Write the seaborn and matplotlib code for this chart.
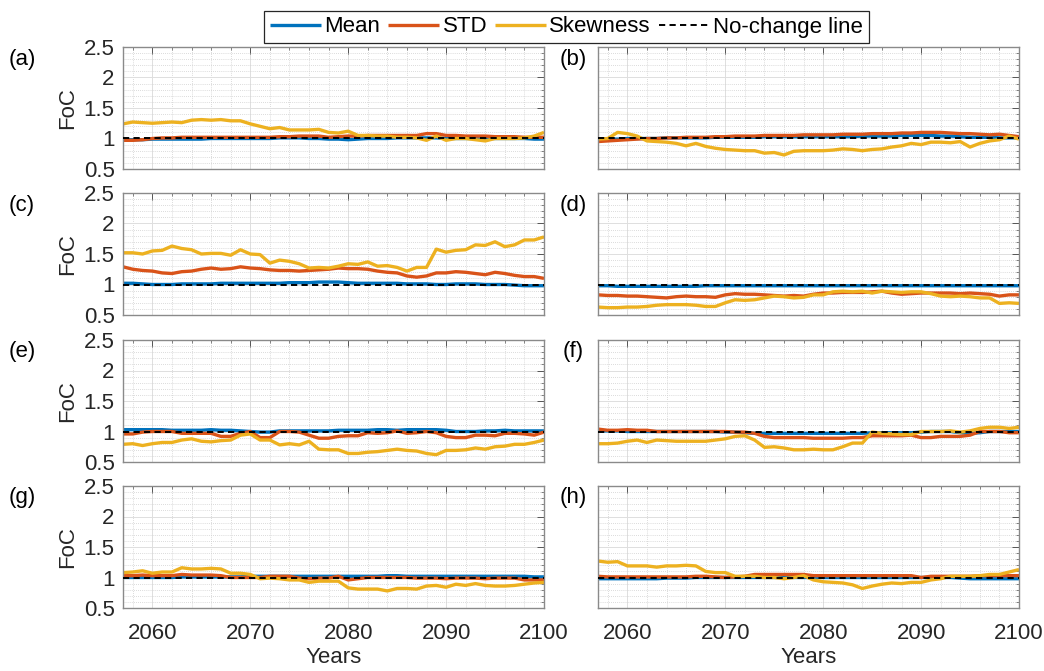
import numpy as np
import pandas as pd
import matplotlib
matplotlib.use("Agg")
import matplotlib.pyplot as plt
from matplotlib.ticker import MultipleLocator, FixedLocator
import seaborn as sns

# ---------------------------------------------------------------------------
# Data: factor of change (FoC) of mean, standard deviation and skewness
# ---------------------------------------------------------------------------
years = list(range(2057, 2101))
stats = ["Mean", "STD", "Skewness"]
panel_tags = ["(a)", "(b)", "(c)", "(d)", "(e)", "(f)", "(g)", "(h)"]
yticks = [0.5, 1, 1.5, 2, 2.5]
ytick_labels = ["0.5", "1", "1.5", "2", "2.5"]
xticks = [2060, 2070, 2080, 2090, 2100]
no_change = 1.0

mean_a = [0.98, 0.98, 0.98, 0.99, 0.99, 0.99, 0.99, 0.99, 0.99, 1.00,
          1.00, 1.00, 1.00, 1.00, 1.00, 1.00, 1.01, 1.01, 1.01, 1.00,
          1.00, 0.99, 0.99, 0.98, 0.99, 1.00, 1.00, 1.00, 1.01, 1.01,
          1.01, 1.01, 1.01, 1.00, 1.00, 1.00, 1.00, 1.00, 1.00, 1.00,
          1.00, 1.00, 0.99, 0.99]
std_a = [0.97, 0.97, 0.98, 1.00, 1.01, 1.01, 1.02, 1.02, 1.02, 1.02,
         1.02, 1.02, 1.02, 1.02, 1.02, 1.02, 1.03, 1.03, 1.04, 1.04,
         1.04, 1.02, 1.03, 1.04, 1.04, 1.05, 1.05, 1.05, 1.05, 1.05,
         1.05, 1.08, 1.08, 1.05, 1.05, 1.04, 1.04, 1.04, 1.03, 1.03,
         1.03, 1.02, 1.02, 1.02]
skew_a = [1.24, 1.27, 1.26, 1.25, 1.26, 1.27, 1.26, 1.30, 1.31, 1.30,
          1.31, 1.29, 1.29, 1.24, 1.20, 1.16, 1.18, 1.14, 1.14, 1.14,
          1.15, 1.10, 1.09, 1.12, 1.05, 1.05, 1.04, 1.04, 1.02, 1.02,
          1.01, 0.97, 1.04, 0.97, 1.00, 1.00, 0.98, 0.96, 1.00, 1.00,
          1.00, 1.01, 1.04, 1.10]

mean_b = [0.98, 0.99, 0.99, 1.00, 1.00, 1.00, 1.00, 1.01, 1.01, 1.01,
          1.01, 1.01, 1.02, 1.02, 1.02, 1.02, 1.02, 1.03, 1.03, 1.03,
          1.03, 1.03, 1.03, 1.03, 1.03, 1.03, 1.03, 1.04, 1.04, 1.04,
          1.04, 1.05, 1.05, 1.05, 1.05, 1.04, 1.04, 1.03, 1.02, 1.02,
          1.02, 1.01, 1.01, 1.01]
std_b = [0.95, 0.96, 0.97, 0.98, 0.99, 1.00, 1.00, 1.01, 1.01, 1.02,
         1.02, 1.02, 1.03, 1.03, 1.04, 1.04, 1.04, 1.05, 1.05, 1.05,
         1.05, 1.06, 1.06, 1.06, 1.06, 1.07, 1.07, 1.07, 1.08, 1.08,
         1.08, 1.09, 1.09, 1.10, 1.10, 1.10, 1.09, 1.08, 1.08, 1.07,
         1.06, 1.07, 1.05, 1.03]
skew_b = [0.99, 1.00, 1.10, 1.08, 1.04, 0.96, 0.95, 0.94, 0.92, 0.88,
          0.92, 0.87, 0.84, 0.82, 0.81, 0.80, 0.80, 0.76, 0.77, 0.73,
          0.79, 0.80, 0.80, 0.80, 0.81, 0.83, 0.82, 0.80, 0.82, 0.83,
          0.86, 0.88, 0.92, 0.90, 0.94, 0.94, 0.93, 0.95, 0.86, 0.92,
          0.96, 0.98, 1.04, 0.99]

mean_c = [1.02, 1.02, 1.01, 1.00, 1.00, 1.00, 1.01, 1.01, 1.01, 1.01,
          1.02, 1.02, 1.02, 1.02, 1.02, 1.02, 1.02, 1.03, 1.03, 1.03,
          1.04, 1.04, 1.04, 1.03, 1.02, 1.02, 1.02, 1.02, 1.02, 1.01,
          1.01, 1.01, 1.00, 1.00, 1.01, 1.01, 1.01, 1.00, 1.00, 1.00,
          0.99, 0.98, 0.98, 0.98]
std_c = [1.29, 1.25, 1.23, 1.22, 1.19, 1.18, 1.21, 1.22, 1.25, 1.27,
         1.25, 1.26, 1.29, 1.27, 1.26, 1.24, 1.23, 1.23, 1.22, 1.23,
         1.24, 1.25, 1.27, 1.26, 1.26, 1.25, 1.22, 1.20, 1.19, 1.14,
         1.12, 1.14, 1.19, 1.19, 1.21, 1.20, 1.18, 1.16, 1.20, 1.18,
         1.15, 1.13, 1.13, 1.10]
skew_c = [1.52, 1.52, 1.50, 1.55, 1.56, 1.63, 1.59, 1.57, 1.50, 1.51,
          1.51, 1.48, 1.57, 1.50, 1.49, 1.35, 1.40, 1.38, 1.34, 1.27,
          1.28, 1.27, 1.30, 1.34, 1.33, 1.37, 1.30, 1.31, 1.28, 1.22,
          1.28, 1.28, 1.58, 1.53, 1.56, 1.57, 1.65, 1.64, 1.70, 1.62,
          1.65, 1.73, 1.73, 1.78]

mean_d = [0.98, 0.98, 0.97, 0.97, 0.97, 0.97, 0.97, 0.97, 0.97, 0.97,
          0.97, 0.98, 0.98, 0.98, 0.98, 0.98, 0.98, 0.98, 0.98, 0.98,
          0.98, 0.98, 0.98, 0.98, 0.98, 0.98, 0.98, 0.98, 0.98, 0.98,
          0.98, 0.98, 0.98, 0.98, 0.98, 0.98, 0.98, 0.98, 0.98, 0.98,
          0.98, 0.98, 0.98, 0.98]
std_d = [0.83, 0.82, 0.82, 0.81, 0.81, 0.80, 0.79, 0.78, 0.80, 0.81,
         0.80, 0.80, 0.79, 0.83, 0.85, 0.84, 0.84, 0.83, 0.82, 0.81,
         0.82, 0.81, 0.84, 0.86, 0.86, 0.87, 0.87, 0.87, 0.88, 0.89,
         0.86, 0.84, 0.85, 0.86, 0.86, 0.86, 0.86, 0.85, 0.86, 0.85,
         0.84, 0.81, 0.83, 0.83]
skew_d = [0.63, 0.62, 0.62, 0.63, 0.63, 0.64, 0.66, 0.67, 0.67, 0.67,
          0.66, 0.64, 0.64, 0.70, 0.75, 0.74, 0.75, 0.78, 0.81, 0.80,
          0.78, 0.79, 0.83, 0.83, 0.88, 0.89, 0.88, 0.89, 0.86, 0.89,
          0.88, 0.87, 0.88, 0.88, 0.85, 0.81, 0.80, 0.81, 0.80, 0.78,
          0.78, 0.69, 0.70, 0.69]

mean_e = [1.03, 1.03, 1.03, 1.03, 1.03, 1.02, 1.02, 1.02, 1.02, 1.03,
          1.02, 1.02, 1.01, 1.00, 0.99, 0.99, 1.01, 1.01, 1.01, 1.01,
          1.01, 1.01, 1.02, 1.02, 1.02, 1.02, 1.03, 1.03, 1.02, 1.03,
          1.03, 1.03, 1.03, 1.02, 1.00, 1.00, 1.00, 1.01, 1.01, 1.02,
          1.01, 1.01, 1.01, 1.01]
std_e = [0.96, 0.96, 0.99, 1.00, 1.00, 1.00, 0.97, 0.97, 0.97, 0.97,
         0.92, 0.92, 0.97, 1.00, 0.90, 0.90, 1.00, 1.00, 0.99, 0.94,
         0.89, 0.89, 0.92, 0.93, 0.93, 0.98, 0.97, 0.98, 1.01, 0.97,
         0.98, 1.00, 0.98, 0.92, 0.90, 0.90, 0.94, 0.94, 0.93, 0.97,
         0.97, 0.96, 0.94, 0.99]
skew_e = [0.79, 0.80, 0.77, 0.80, 0.82, 0.82, 0.86, 0.88, 0.84, 0.83,
          0.85, 0.86, 0.94, 0.96, 0.86, 0.86, 0.78, 0.80, 0.78, 0.84,
          0.71, 0.70, 0.70, 0.64, 0.64, 0.66, 0.67, 0.69, 0.71, 0.69,
          0.68, 0.64, 0.62, 0.69, 0.69, 0.70, 0.73, 0.71, 0.75, 0.76,
          0.79, 0.79, 0.82, 0.86]

mean_f = [1.01, 1.01, 1.01, 1.00, 1.00, 1.00, 1.00, 1.00, 1.00, 1.00,
          1.00, 1.00, 1.00, 0.99, 0.99, 0.98, 0.97, 0.97, 0.97, 0.97,
          0.97, 0.97, 0.97, 0.97, 0.97, 0.97, 0.97, 0.97, 0.98, 0.98,
          0.98, 0.98, 0.98, 0.99, 1.00, 1.00, 1.00, 0.98, 0.97, 0.98,
          1.00, 1.00, 1.00, 1.00]
std_f = [1.04, 1.02, 1.02, 1.03, 1.02, 1.02, 1.00, 1.00, 1.00, 1.00,
         1.00, 1.00, 1.00, 1.00, 0.99, 0.99, 0.97, 0.92, 0.90, 0.90,
         0.90, 0.90, 0.89, 0.89, 0.89, 0.89, 0.90, 0.90, 0.93, 0.93,
         0.93, 0.93, 0.94, 0.90, 0.90, 0.92, 0.92, 0.92, 0.94, 1.00,
         1.00, 1.00, 0.98, 0.98]
skew_f = [0.80, 0.80, 0.81, 0.84, 0.86, 0.82, 0.86, 0.85, 0.84, 0.84,
          0.84, 0.84, 0.86, 0.88, 0.92, 0.93, 0.86, 0.74, 0.75, 0.73,
          0.70, 0.70, 0.71, 0.70, 0.70, 0.75, 0.81, 0.81, 0.99, 0.97,
          0.96, 0.95, 0.95, 1.00, 1.00, 1.00, 1.01, 0.99, 1.01, 1.05,
          1.07, 1.07, 1.05, 1.07]

mean_g = [1.00, 1.00, 1.00, 1.00, 1.00, 1.00, 1.01, 1.01, 1.01, 1.01,
          1.01, 1.01, 1.01, 1.02, 1.02, 1.02, 1.02, 1.02, 1.02, 1.02,
          1.02, 1.02, 1.02, 1.02, 1.02, 1.02, 1.02, 1.03, 1.03, 1.02,
          1.02, 1.02, 1.02, 1.02, 1.02, 1.02, 1.02, 1.02, 1.02, 1.02,
          1.02, 1.02, 1.01, 1.01]
std_g = [1.03, 1.03, 1.04, 1.03, 1.03, 1.03, 1.05, 1.04, 1.04, 1.04,
         1.03, 1.00, 1.00, 1.00, 1.00, 1.02, 1.02, 1.02, 0.99, 0.98,
         0.99, 0.99, 1.02, 0.96, 0.98, 1.00, 1.00, 1.00, 1.00, 1.00,
         0.99, 0.99, 0.99, 0.98, 0.99, 0.99, 0.99, 0.98, 0.99, 0.99,
         0.99, 0.96, 0.96, 0.96]
skew_g = [1.08, 1.09, 1.11, 1.07, 1.09, 1.09, 1.16, 1.14, 1.14, 1.15,
          1.14, 1.07, 1.07, 1.05, 0.98, 0.99, 0.98, 0.96, 0.96, 0.92,
          0.94, 0.94, 0.94, 0.83, 0.81, 0.81, 0.81, 0.78, 0.82, 0.82,
          0.81, 0.86, 0.87, 0.84, 0.89, 0.87, 0.90, 0.87, 0.86, 0.86,
          0.87, 0.89, 0.91, 0.92]

mean_h = [0.98, 0.98, 0.98, 0.98, 0.98, 0.98, 0.98, 0.99, 0.99, 0.99,
          1.00, 1.00, 1.00, 1.00, 1.00, 1.00, 1.00, 1.00, 1.00, 1.00,
          1.00, 1.00, 1.00, 1.00, 1.00, 1.00, 1.00, 1.00, 1.00, 1.00,
          1.00, 1.00, 1.00, 1.00, 1.00, 1.00, 1.00, 0.99, 0.98, 0.98,
          0.98, 0.98, 0.98, 0.98]
std_h = [1.02, 1.01, 1.01, 1.01, 1.01, 1.01, 1.01, 1.01, 1.01, 1.01,
         1.02, 1.02, 1.01, 1.00, 1.01, 1.02, 1.05, 1.05, 1.05, 1.05,
         1.05, 1.05, 1.03, 1.03, 1.03, 1.03, 1.03, 1.03, 1.03, 1.03,
         1.03, 1.03, 1.03, 1.00, 1.02, 1.02, 1.02, 1.02, 1.02, 1.03,
         1.03, 1.03, 1.03, 1.03]
skew_h = [1.27, 1.25, 1.26, 1.19, 1.19, 1.19, 1.17, 1.19, 1.19, 1.20,
          1.19, 1.10, 1.08, 1.08, 1.02, 1.02, 1.02, 1.00, 1.00, 0.98,
          1.00, 1.03, 0.96, 0.93, 0.92, 0.91, 0.88, 0.82, 0.86, 0.89,
          0.91, 0.90, 0.92, 0.92, 0.96, 0.98, 1.02, 1.02, 1.02, 1.03,
          1.05, 1.05, 1.09, 1.13]

panels = [
    (mean_a, std_a, skew_a), (mean_b, std_b, skew_b),
    (mean_c, std_c, skew_c), (mean_d, std_d, skew_d),
    (mean_e, std_e, skew_e), (mean_f, std_f, skew_f),
    (mean_g, std_g, skew_g), (mean_h, std_h, skew_h),
]

# ---------------------------------------------------------------------------
# Styling
# ---------------------------------------------------------------------------
sns.set_style("white")
plt.rcParams["font.family"] = ["Liberation Sans", "DejaVu Sans"]
plt.rcParams["font.size"] = 16

palette = {"Mean": "#0072BD", "STD": "#D95319", "Skewness": "#EDB120"}
text_color = "#262626"
frame_color = "#8a8a8a"

W, H = 1044, 671
fig = plt.figure(figsize=(W / 100, H / 100), dpi=100)

col_left = [123, 598]
ax_w = 421
row_top = [47, 193, 340, 486]
ax_h = 122

axes = []
for i, (mean_v, std_v, skew_v) in enumerate(panels):
    r, c = divmod(i, 2)
    rect = [col_left[c] / W, 1 - (row_top[r] + ax_h) / H, ax_w / W, ax_h / H]
    ax = fig.add_axes(rect)
    axes.append(ax)

    df = pd.DataFrame({
        "Year": years * 3,
        "FoC": list(mean_v) + list(std_v) + list(skew_v),
        "Stat": ["Mean"] * len(years) + ["STD"] * len(years) + ["Skewness"] * len(years),
    })
    sns.lineplot(data=df, x="Year", y="FoC", hue="Stat", hue_order=stats,
                 palette=palette, linewidth=2.4, legend=False, ax=ax,
                 solid_capstyle="butt")
    ax.axhline(no_change, color="black", lw=1.4, ls=(0, (3.2, 2.2)),
               label="No-change line", zorder=5)

    ax.set_xlim(2057, 2100)
    ax.set_ylim(0.5, 2.5)
    ax.xaxis.set_major_locator(FixedLocator(xticks))
    ax.xaxis.set_minor_locator(MultipleLocator(2))
    ax.yaxis.set_major_locator(FixedLocator(yticks))
    ax.yaxis.set_minor_locator(MultipleLocator(0.1))

    ax.grid(which="major", color="#dedede", lw=0.7, ls="-")
    ax.grid(which="minor", color="#cfcfcf", lw=0.6, ls=(0, (1, 1.5)))
    ax.set_axisbelow(True)

    ax.tick_params(which="both", direction="in", top=True, right=True,
                   color="#555555", labelcolor=text_color, labelsize=16)
    ax.tick_params(which="major", length=5, width=0.7)
    ax.tick_params(which="minor", length=2.5, width=0.5)
    ax.tick_params(axis="y", pad=6)
    ax.tick_params(axis="x", pad=11)
    for sp in ax.spines.values():
        sp.set_color(frame_color)
        sp.set_linewidth(1.0)

    if c == 0:
        ax.set_yticklabels(ytick_labels)
        ax.set_ylabel("FoC", color=text_color, fontsize=16, labelpad=4)
    else:
        ax.set_yticklabels([])
        ax.set_ylabel("")

    if r == 3:
        ax.set_xticklabels([str(x) for x in xticks])
        ax.set_xlabel("Years", color=text_color, fontsize=16, labelpad=2)
    else:
        ax.set_xticklabels([])
        ax.set_xlabel("")

    tag_x = 22 if c == 0 else 573
    fig.text(tag_x / W, 1 - (row_top[r] + 12) / H, panel_tags[i],
             ha="center", va="center", fontsize=16, color="black")

# Shared legend across the top of the figure
handles = axes[0].get_lines()[:4]
labels = stats + ["No-change line"]
leg = fig.legend(handles, labels, ncol=4, loc="center",
                 bbox_to_anchor=(566.5 / W, 1 - 27 / H),
                 frameon=True, fancybox=False, framealpha=1,
                 edgecolor="#262626", handlelength=2.3, handletextpad=0.15,
                 columnspacing=0.35, borderpad=0.25, fontsize=16)
leg.get_frame().set_linewidth(0.9)
for t in leg.get_texts():
    t.set_color("black")

fig.savefig("out.png", dpi=100)
